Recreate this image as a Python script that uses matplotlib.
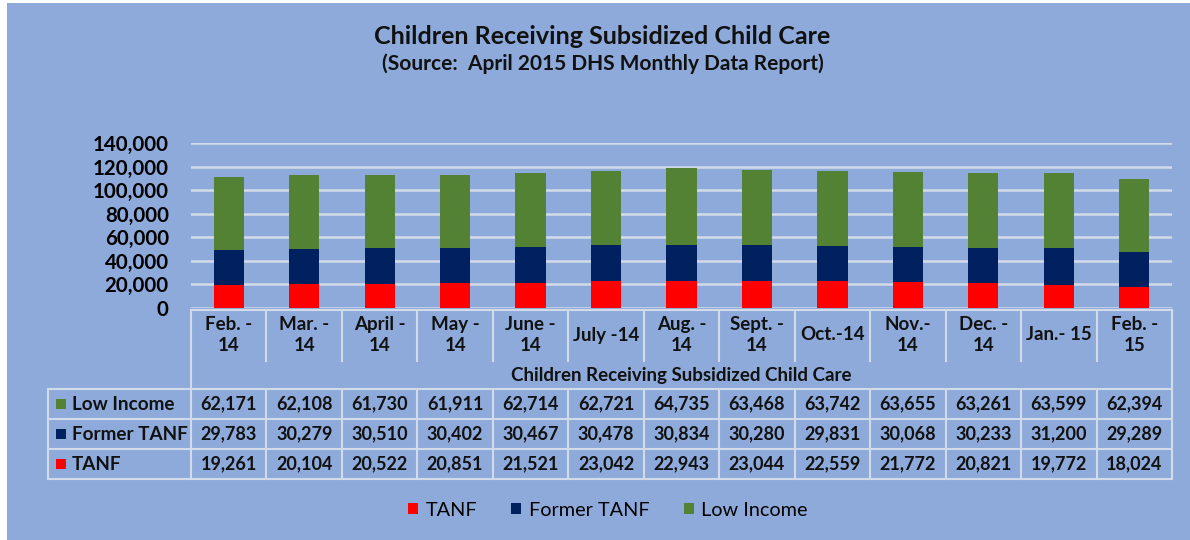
import numpy as np
import matplotlib
matplotlib.use("Agg")
import matplotlib.pyplot as plt
import matplotlib.ticker as mticker
from matplotlib.lines import Line2D
from matplotlib.patches import Rectangle
import matplotlib.transforms as mtrans

plt.rcParams["font.family"] = ["Lato", "DejaVu Sans"]

months = ["Feb. -\n14", "Mar. -\n14", "April -\n14", "May -\n14", "June -\n14", "July -14",
          "Aug. -\n14", "Sept. -\n14", "Oct.-14", "Nov.-\n14", "Dec. -\n14", "Jan.- 15", "Feb. -\n15"]
low_income = [62171, 62108, 61730, 61911, 62714, 62721, 64735, 63468, 63742, 63655, 63261, 63599, 62394]
former_tanf = [29783, 30279, 30510, 30402, 30467, 30478, 30834, 30280, 29831, 30068, 30233, 31200, 29289]
tanf = [19261, 20104, 20522, 20851, 21521, 23042, 22943, 23044, 22559, 21772, 20821, 19772, 18024]

BG = "#8EAADB"
LINE = "#D3DAE8"
C_TANF, C_FORMER, C_LOW = "#FF0000", "#002060", "#548235"

W, H = 1190, 540
fig = plt.figure(figsize=(W / 100, H / 100), dpi=100, facecolor="white")
fig.add_artist(Rectangle((7 / W, 0), 1, 1 - 3 / H, transform=fig.transFigure,
                         facecolor=BG, edgecolor="none", zorder=-10))

def fx(x):
    return x / W

def fy(y):
    return 1 - y / H

# plot area
left, right, top, bottom = 191, 1172, 143, 308
ax = fig.add_axes([fx(left), fy(bottom), fx(right - left), (bottom - top) / H])
ax.set_facecolor("none")
x = np.arange(len(months))
bw = 0.4
b1 = ax.bar(x, tanf, bw, color=C_TANF, label="TANF", zorder=3)
b2 = ax.bar(x, former_tanf, bw, bottom=tanf, color=C_FORMER, label="Former TANF", zorder=3)
b3 = ax.bar(x, low_income, bw, bottom=np.array(tanf) + np.array(former_tanf),
            color=C_LOW, label="Low Income", zorder=3)
ax.set_xlim(-0.5, len(months) - 0.5)
ax.set_ylim(0, 140000)
ax.yaxis.set_major_locator(mticker.MultipleLocator(20000))
ax.yaxis.set_major_formatter(mticker.FuncFormatter(lambda v, p: f"{int(v):,}"))
ax.grid(axis="y", color=LINE, linewidth=1.8, zorder=0)
ax.set_xticks([])
ax.tick_params(axis="y", length=0, pad=16, labelsize=14.8)
for lbl in ax.get_yticklabels():
    lbl.set_fontweight("bold")
for s in ax.spines.values():
    s.set_visible(False)

# titles
fig.text(fx(602), fy(37), "Children Receiving Subsidized Child Care", ha="center", va="center",
         fontsize=18, fontweight="bold", color="#111111")
fig.text(fx(603), fy(64), "(Source:  April 2015 DHS Monthly Data Report)", ha="center", va="center",
         fontsize=15, fontweight="bold", color="#111111")

# data table under the chart
tr = mtrans.blended_transform_factory(ax.transData, fig.transFigure)
col_w = (right - left) / len(months)

def hline(x0, x1, y):
    fig.add_artist(Line2D([fx(x0), fx(x1)], [fy(y), fy(y)], color=LINE, lw=1.5))

def vline(xp, y0, y1):
    fig.add_artist(Line2D([fx(xp), fx(xp)], [fy(y0), fy(y1)], color=LINE, lw=1.5))

hline(left, right, 310)
for i in range(len(months) + 1):
    vline(left + i * col_w, 310, 361)
vline(left, 361, 389)
vline(right, 361, 389)
row_y = [389, 419, 449, 479]
for y in row_y:
    hline(48, right, y)
vline(48, 389, 479)
for i in range(len(months) + 1):
    vline(left + i * col_w, 389, 479)

for i, m in enumerate(months):
    ax.text(i, fy(335), m, transform=tr, ha="center", va="center", fontsize=13.5,
            fontweight="bold", linespacing=1.35, color="#111111")
fig.text(fx((left + right) / 2), fy(375), "Children Receiving Subsidized Child Care",
         ha="center", va="center", fontsize=13.5, fontweight="bold", color="#111111")

rows = [("Low Income", low_income, C_LOW), ("Former TANF", former_tanf, C_FORMER), ("TANF", tanf, C_TANF)]
for r, (name, vals, col) in enumerate(rows):
    yc = (row_y[r] + row_y[r + 1]) / 2
    fig.add_artist(Rectangle((fx(56), fy(yc + 5)), 10 / W, 10 / H, transform=fig.transFigure,
                             facecolor=col, edgecolor="none"))
    fig.text(fx(72), fy(yc), name, ha="left", va="center", fontsize=13.6,
             fontweight="bold", color="#111111")
    for i, v in enumerate(vals):
        ax.text(i, fy(yc), f"{v:,}", transform=tr, ha="center", va="center",
                fontsize=13, fontweight="bold", color="#111111")

fig.legend(handles=[b1, b2, b3], loc="center", bbox_to_anchor=(fx(608), fy(510)), ncol=3,
           frameon=False, fontsize=14.3, handlelength=0.5, handleheight=0.5,
           handletextpad=0.4, columnspacing=1.7)

plt.savefig("out.png", dpi=100, facecolor=fig.get_facecolor())
plt.close()
